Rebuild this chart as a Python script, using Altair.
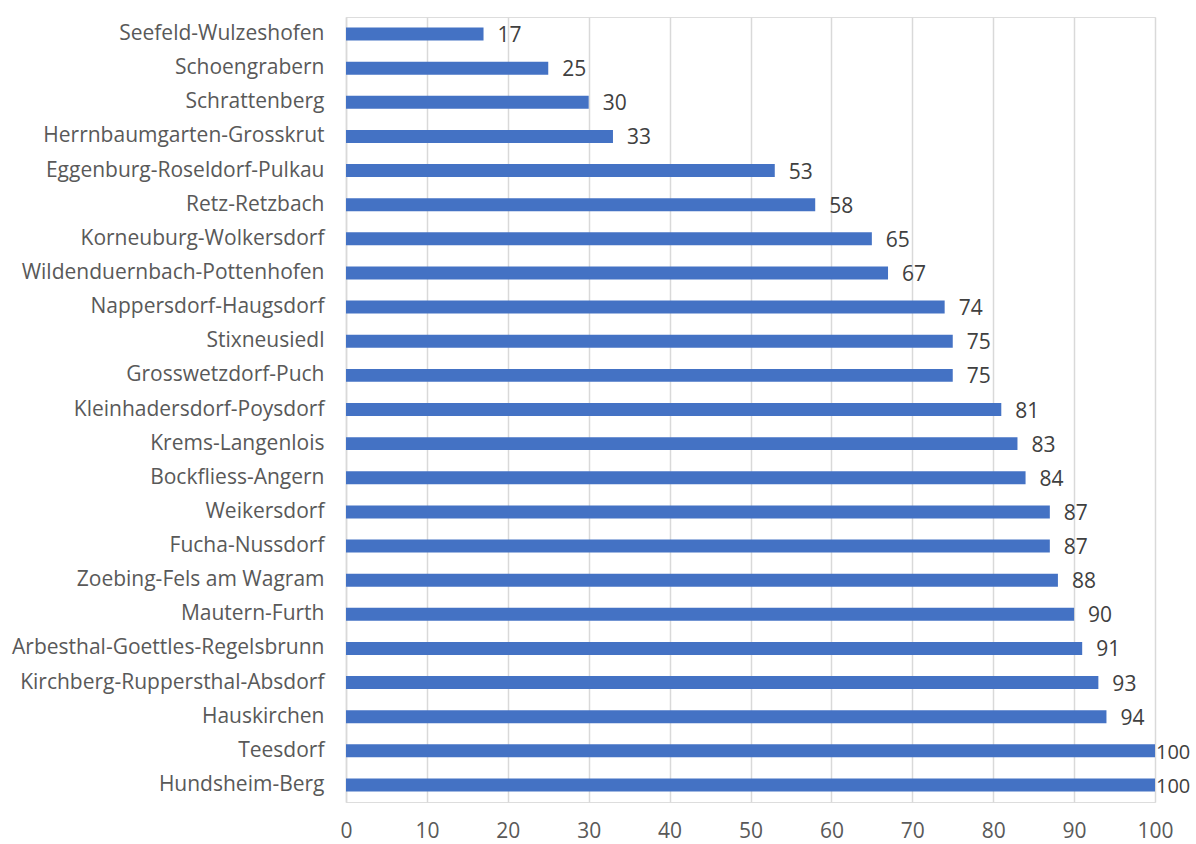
import altair as alt
import pandas as pd

regions = ["Seefeld-Wulzeshofen", "Schoengrabern", "Schrattenberg", "Herrnbaumgarten-Grosskrut",
           "Eggenburg-Roseldorf-Pulkau", "Retz-Retzbach", "Korneuburg-Wolkersdorf",
           "Wildenduernbach-Pottenhofen", "Nappersdorf-Haugsdorf", "Stixneusiedl",
           "Grosswetzdorf-Puch", "Kleinhadersdorf-Poysdorf", "Krems-Langenlois",
           "Bockfliess-Angern", "Weikersdorf", "Fucha-Nussdorf", "Zoebing-Fels am Wagram",
           "Mautern-Furth", "Arbesthal-Goettles-Regelsbrunn", "Kirchberg-Ruppersthal-Absdorf",
           "Hauskirchen", "Teesdorf", "Hundsheim-Berg"]
values = [17, 25, 30, 33, 53, 58, 65, 67, 74, 75, 75, 81, 83, 84, 87, 87, 88, 90, 91, 93, 94, 100, 100]
x_ticks = [0, 10, 20, 30, 40, 50, 60, 70, 80, 90, 100]

df = pd.DataFrame({"region": regions, "value": values})

FONT = "Open Sans"
FS = 21

y = alt.Y("region:N", sort=regions, title=None,
          scale=alt.Scale(paddingInner=0.62, paddingOuter=0.31),
          axis=alt.Axis(labelFont=FONT, labelFontSize=FS, labelColor="#595959",
                        labelPadding=22, ticks=False, domain=True, domainColor="#D9D9D9",
                        domainWidth=1.5, labelLimit=400))
x = alt.X("value:Q", title=None,
          scale=alt.Scale(domain=[0, 100], nice=False),
          axis=alt.Axis(values=x_ticks, labelFont=FONT, labelFontSize=FS, labelColor="#595959",
                        labelPadding=18, labelFlush=False, ticks=False, domain=False, grid=True,
                        gridColor="#D9D9D9", gridWidth=1.5))

bars = alt.Chart(df).mark_bar(color="#4472C4").encode(x=x, y=y)
labels = alt.Chart(df).transform_filter("datum.value < 100").mark_text(
    align="left", dx=14, dy=2, font=FONT, fontSize=FS, color="#404040").encode(
    x=alt.X("value:Q"), y=alt.Y("region:N", sort=regions), text=alt.Text("value:Q"))
labels_full = alt.Chart(df).transform_filter("datum.value >= 100").mark_text(
    align="left", dx=1, dy=2, font=FONT, fontSize=FS - 1, color="#404040").encode(
    x=alt.X("value:Q"), y=alt.Y("region:N", sort=regions), text=alt.Text("value:Q"))

chart = (bars + labels + labels_full).properties(
    width=809, height=785,
    autosize=alt.AutoSizeParams(type="none"),
    padding={"left": 346, "top": 17, "right": 41, "bottom": 42},
).configure_view(stroke=None).configure(background="white")

chart.save("out.html", embed_options={"renderer": "svg", "actions": False})
